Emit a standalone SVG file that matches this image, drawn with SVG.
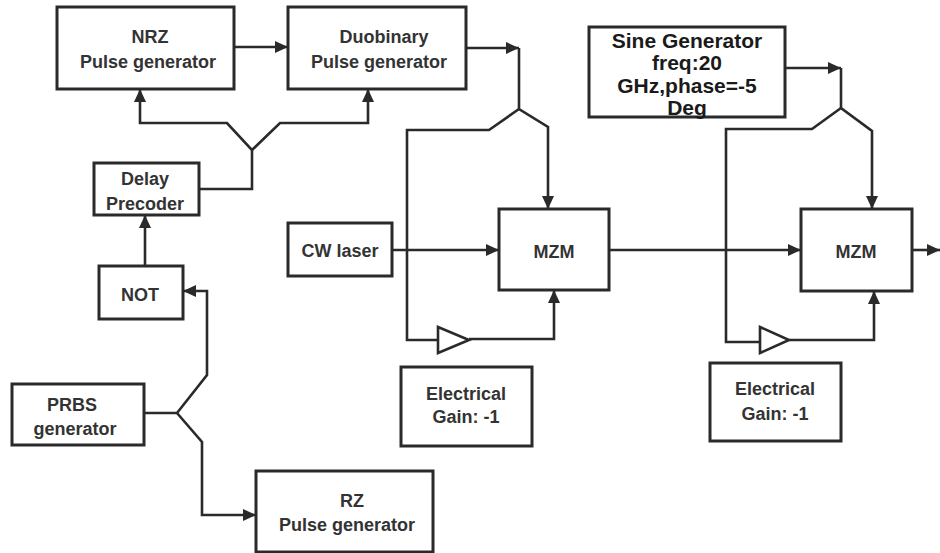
<svg xmlns="http://www.w3.org/2000/svg" width="940" height="553" viewBox="0 0 940 553">
  <style>
    .box { fill: #ffffff; stroke: #2a2a2a; stroke-width: 3; }
    .wire { fill: none; stroke: #2a2a2a; stroke-width: 2.6; stroke-linejoin: miter; }
    .amp { fill: #ffffff; stroke: #2a2a2a; stroke-width: 2.6; }
    .lbl { font-family: "Liberation Sans", Arial, sans-serif; font-weight: bold; font-size: 18px; fill: #333333; text-anchor: middle; }
    .big { font-size: 21px; fill: #1a1a1a; }
  </style>
  <defs>
    <marker id="ah" markerWidth="14" markerHeight="12" refX="13" refY="6" orient="auto" markerUnits="userSpaceOnUse">
      <path d="M0,0 L13,6 L0,12 z" fill="#2a2a2a"/>
    </marker>
  </defs>

  <rect width="940" height="553" fill="#ffffff"/>

  <!-- connectors -->
  <g id="connectors">
    <!-- NRZ to duobinary -->
    <path class="wire" d="M234,47 H288" marker-end="url(#ah)"/>
    <!-- delay precoder split to both pulse generators -->
    <path class="wire" d="M199,189 H252 V150 L227,123 H140 V89" marker-end="url(#ah)"/>
    <path class="wire" d="M252,150 L280,123 H368 V89" marker-end="url(#ah)"/>
    <!-- NOT to delay precoder -->
    <path class="wire" d="M145,266 V215" marker-end="url(#ah)"/>
    <!-- PRBS split -->
    <path class="wire" d="M144,413 H177 L207,375 V291 H183" marker-end="url(#ah)"/>
    <path class="wire" d="M177,413 L202,442 V515 H256" marker-end="url(#ah)"/>
    <!-- duobinary drive to first MZM -->
    <path class="wire" d="M466,48 H519" marker-end="url(#ah)"/>
    <path class="wire" d="M519,48 V109 L548,127 V209" marker-end="url(#ah)"/>
    <path class="wire" d="M519,109 L489,130 H407 V340 H438"/>
    <path class="wire" d="M469,339 H554 V290" marker-end="url(#ah)"/>
    <!-- optical path -->
    <path class="wire" d="M392,250 H499" marker-end="url(#ah)"/>
    <path class="wire" d="M609,250 H801" marker-end="url(#ah)"/>
    <path class="wire" d="M912,250 H940" marker-end="url(#ah)"/>
    <!-- sine drive to second MZM -->
    <path class="wire" d="M785,68 H841" marker-end="url(#ah)"/>
    <path class="wire" d="M841,68 V108 L872,131 V209" marker-end="url(#ah)"/>
    <path class="wire" d="M841,108 L812,129 H726 V342 H760"/>
    <path class="wire" d="M789,340 H874 V291" marker-end="url(#ah)"/>
    <!-- inverting amplifiers -->
    <path class="amp" d="M438,327 L438,353 L469,340 z"/>
    <path class="amp" d="M760,327 L760,353 L789,340 z"/>
  </g>

  <g id="nrz">
    <rect class="box" x="57" y="7" width="177" height="82"/>
    <text class="lbl" x="150" y="43">NRZ</text>
    <text class="lbl" x="148" y="68">Pulse generator</text>
  </g>
  <g id="duobinary">
    <rect class="box" x="288" y="7" width="178" height="82"/>
    <text class="lbl" x="384" y="43">Duobinary</text>
    <text class="lbl" x="379" y="68">Pulse generator</text>
  </g>
  <g id="delay">
    <rect class="box" x="94" y="163" width="105" height="52"/>
    <text class="lbl" x="145" y="185">Delay</text>
    <text class="lbl" x="145" y="210">Precoder</text>
  </g>
  <g id="not">
    <rect class="box" x="99" y="266" width="84" height="53"/>
    <text class="lbl" x="140" y="301">NOT</text>
  </g>
  <g id="prbs">
    <rect class="box" x="12" y="384" width="132" height="61"/>
    <text class="lbl" x="72" y="411">PRBS</text>
    <text class="lbl" x="75" y="435">generator</text>
  </g>
  <g id="rz">
    <rect class="box" x="256" y="471" width="177" height="81"/>
    <text class="lbl" x="352" y="507">RZ</text>
    <text class="lbl" x="347" y="531">Pulse generator</text>
  </g>
  <g id="cw">
    <rect class="box" x="288" y="223" width="104" height="53"/>
    <text class="lbl" x="340" y="257">CW laser</text>
  </g>
  <g id="mzm1">
    <rect class="box" x="499" y="209" width="110" height="81"/>
    <text class="lbl" x="554" y="258">MZM</text>
  </g>
  <g id="gain1">
    <rect class="box" x="401" y="367" width="131" height="79"/>
    <text class="lbl" x="466" y="400">Electrical</text>
    <text class="lbl" x="466" y="423">Gain: -1</text>
  </g>
  <g id="sine">
    <rect class="box" x="589" y="27" width="196" height="90"/>
    <text class="lbl big" x="687" y="48">Sine Generator</text>
    <text class="lbl big" x="687" y="70">freq:20</text>
    <text class="lbl big" x="687" y="93">GHz,phase=-5</text>
    <text class="lbl big" x="687" y="115">Deg</text>
  </g>
  <g id="mzm2">
    <rect class="box" x="801" y="209" width="111" height="82"/>
    <text class="lbl" x="856" y="258">MZM</text>
  </g>
  <g id="gain2">
    <rect class="box" x="710" y="363" width="131" height="78"/>
    <text class="lbl" x="775" y="395">Electrical</text>
    <text class="lbl" x="775" y="420">Gain: -1</text>
  </g>
</svg>
